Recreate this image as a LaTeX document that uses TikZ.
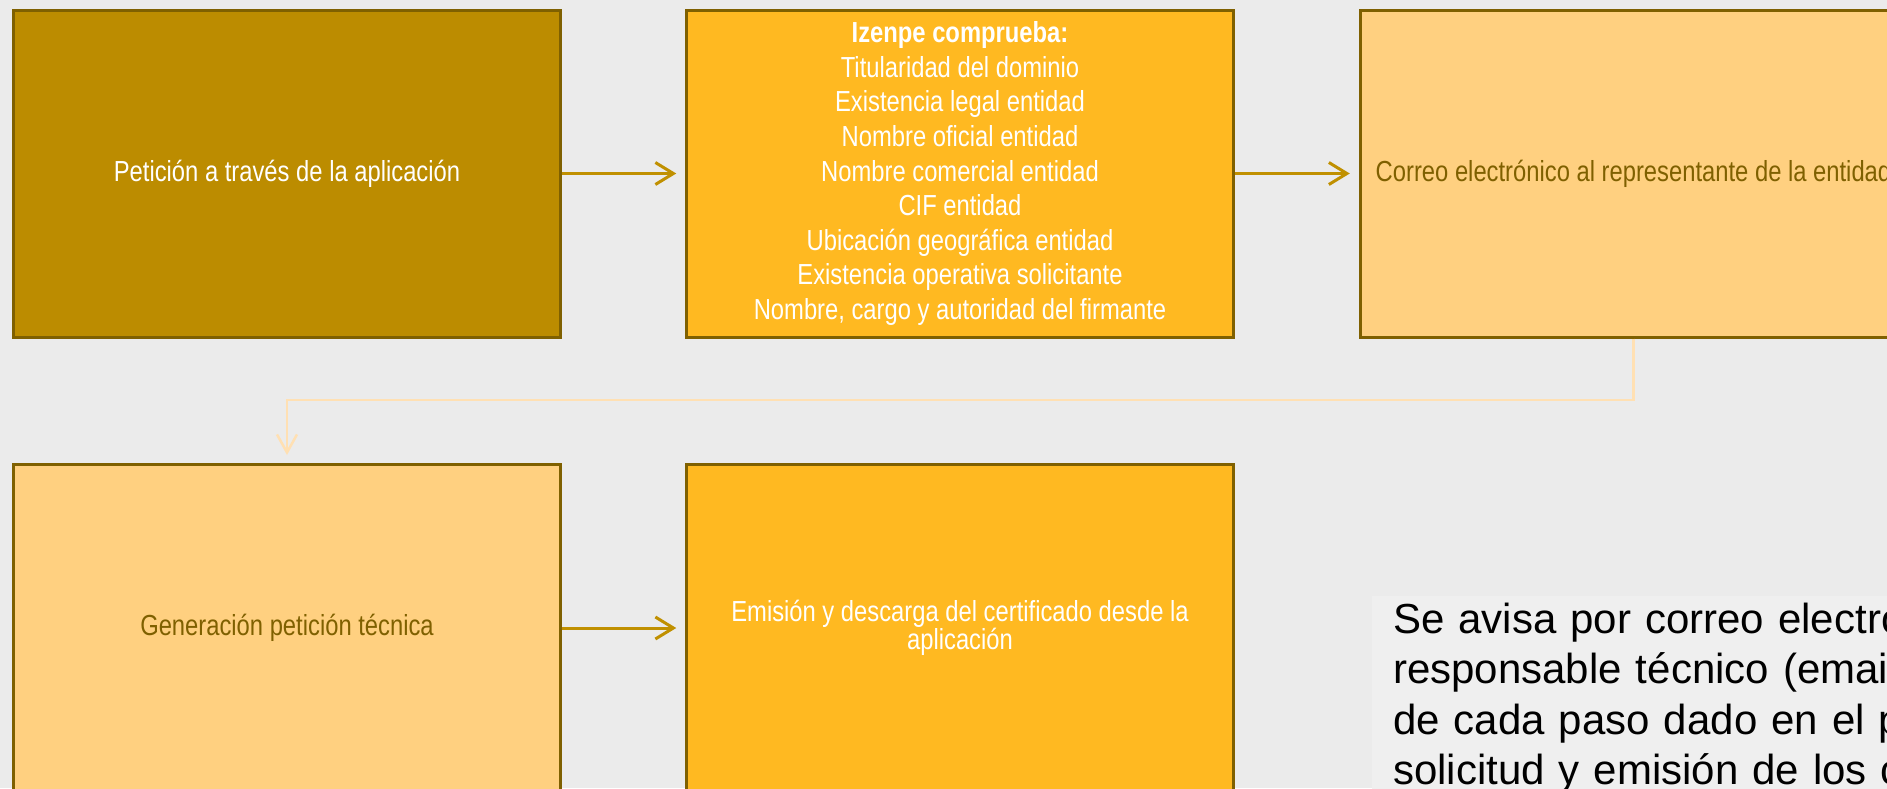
\documentclass[tikz,border=0pt]{standalone}
\usepackage{fontspec}
\setmainfont{Liberation Sans}
\newfontfamily\estrecha[FakeStretch=0.82]{Liberation Sans}
\usepackage{tikz}
\usetikzlibrary{arrows.meta}
\definecolor{fondo}{HTML}{EBEBEB}
\definecolor{nota}{HTML}{EFEFEF}
\definecolor{oro}{HTML}{BC8C00}
\definecolor{ambar}{HTML}{FFB921}
\definecolor{melocoton}{HTML}{FFD080}
\definecolor{borde}{HTML}{7F6000}
\definecolor{flechaoro}{HTML}{C09000}
\definecolor{claro}{HTML}{FFE0B3}
\tikzset{%
	caja/.style = {name = #1, rectangle, draw = borde, line width = 3pt, minimum width = 546.5pt, minimum height = 327pt, inner sep = 6pt, align = center, font = \estrecha\fontsize{29}{34.6}\selectfont},
	flecha/.style = {draw = flechaoro, line width = 3pt, -{Straight Barb[length=18pt, width=22pt]}, shorten > = 9pt},
	enlace/.style = {draw = claro, line width = 2.5pt, -{Straight Barb[length=18pt, width=20pt]}, shorten > = 8pt},
	nota/.style = {name = #1, anchor = north west, fill = nota, text width = 760pt, inner xsep = 21pt, inner ysep = 6pt, align = left, font = \fontsize{42}{50.5}\selectfont}
}
\begin{document}
\begin{tikzpicture}[x=1pt, y=-1pt]
			\clip (0,0) rectangle (1887,788);
			\useasboundingbox (0,0) rectangle (1887,788);
			\fill [fondo] (0,0) rectangle (1887,788);
			\node [caja = {peticion}, fill = oro, text = white] at (287,173.5) {Petición a través de la aplicación};
			\node [caja = {comprueba}, fill = ambar, text = white] at (960,173.5) {\textbf{Izenpe comprueba:}\\Titularidad del dominio\\Existencia legal entidad\\Nombre oficial entidad\\Nombre comercial entidad\\CIF entidad\\Ubicación geográfica entidad\\Existencia operativa solicitante\\Nombre, cargo y autoridad del firmante};
			\node [caja = {correo}, fill = melocoton, text = borde] at (1633.5,173.5) {Correo electrónico al representante de la entidad};
			\node [caja = {generacion}, fill = melocoton, text = borde] at (287,628) {Generación petición técnica};
			\node [caja = {emision}, fill = ambar, text = white, font = \estrecha\fontsize{29}{24}\selectfont] at (960,628) {Emisión y descarga del certificado desde la\\aplicación};
			\node [nota = {aviso}] at (1372,596) {Se avisa por correo electrónico al\\responsable técnico (email)\\de cada paso dado en el proceso de\\solicitud y emisión de los certificados};
			\coordinate (giro) at (1633.5,400);
			\path [flecha] (peticion) edge (comprueba);
			\path [flecha] (comprueba) edge (correo);
			\path [flecha] (generacion) edge (emision);
			\draw [enlace] (correo) -- (giro) -| (generacion);
			\end{tikzpicture}
\end{document}
